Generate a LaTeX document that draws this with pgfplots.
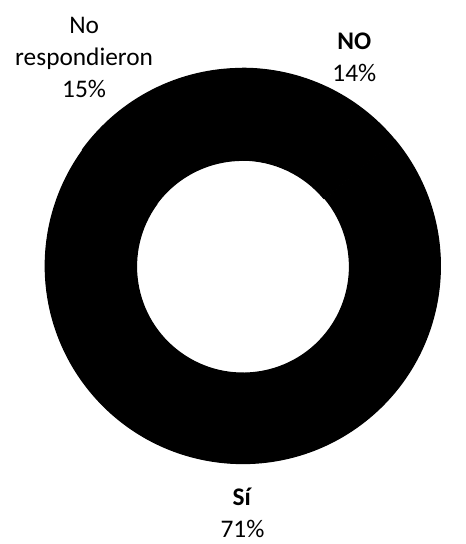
\documentclass[border=0pt]{standalone}
\usepackage{pgfplots}
\usepackage{pgfplotstable}
\pgfplotsset{compat=1.18}
\usepackage{fontspec}
\setmainfont{Carlito}

% shares of the ring, clockwise from 12 o'clock
\pgfplotstableread{
value
14
71
15
}\piedata

\begin{document}
\begin{tikzpicture}
\begin{axis}[
    width=222.5pt, height=272pt, scale only axis,
    xmin=0, xmax=445, ymin=0, ymax=544,
    hide axis, clip=false,
]
\def\a{0}
\pgfplotsforeachungrouped \i in {0,1,2}{
  \pgfplotstablegetelem{\i}{value}\of\piedata
  \pgfmathsetmacro\b{\a+\pgfplotsretval*3.6}
  \pgfmathsetmacro\ox{245+200*sin(\a)}
  \pgfmathsetmacro\oy{275+200*cos(\a)}
  \pgfmathsetmacro\ix{245+107*sin(\b)}
  \pgfmathsetmacro\iy{275+107*cos(\b)}
  \pgfmathsetmacro\sa{90-\a}
  \pgfmathsetmacro\ea{90-\b}
  \edef\temp{\noexpand\filldraw[black, line width=0.6pt, line join=round] (axis cs:\ox,\oy)
    arc[start angle=\sa, end angle=\ea, radius=99.8pt]
    -- (axis cs:\ix,\iy)
    arc[start angle=\ea, end angle=\sa, radius=53.8pt] -- cycle;}
  \temp
  \global\let\a\b
}
\node[align=center, font=\fontsize{12.8}{16}\selectfont] at (axis cs:358,486) {\textbf{NO}\\14\%};
\node[align=center, font=\fontsize{12.8}{16}\selectfont] at (axis cs:85,486) {No\\respondieron\\15\%};
\node[align=center, font=\fontsize{12.8}{16}\selectfont] at (axis cs:245,26) {\textbf{Sí}\\71\%};
\end{axis}
\path[use as bounding box] (current axis.south west) rectangle (current axis.north east);
\end{tikzpicture}
\end{document}
